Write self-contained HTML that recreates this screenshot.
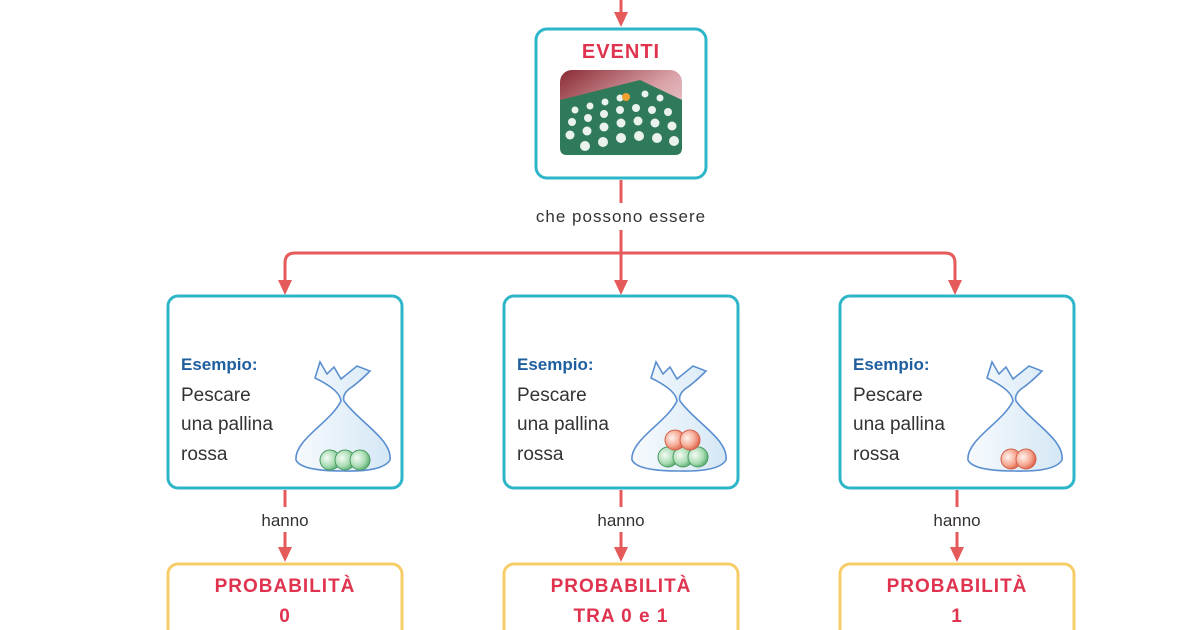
<!DOCTYPE html>
<html><head><meta charset="utf-8"><style>
body{margin:0;background:#fff;}
svg{display:block}
text{font-family:"Liberation Sans","DejaVu Sans",sans-serif;}
</style></head><body>
<svg width="1200" height="630" viewBox="0 0 1200 630" xmlns="http://www.w3.org/2000/svg">
<defs>
<radialGradient id="g" cx="0.35" cy="0.4" r="0.7"><stop offset="0" stop-color="#f4fbf5"/><stop offset="0.6" stop-color="#a9dcb3"/><stop offset="1" stop-color="#4ea868"/></radialGradient>
<radialGradient id="r" cx="0.35" cy="0.4" r="0.7"><stop offset="0" stop-color="#fff3ee"/><stop offset="0.6" stop-color="#f5a690"/><stop offset="1" stop-color="#d9583e"/></radialGradient>
<linearGradient id="bag" x1="0" y1="0" x2="1" y2="0"><stop offset="0" stop-color="#f3f8fd"/><stop offset="1" stop-color="#c3ddf1"/></linearGradient>
<linearGradient id="pic" x1="0" y1="0" x2="1" y2="1"><stop offset="0" stop-color="#8a2a35"/><stop offset="0.5" stop-color="#d9a3a8"/><stop offset="1" stop-color="#f4e6e8"/></linearGradient>
<g id="bagshape">
<path d="M148,378 L153,362 L160,374 L167,367 L174,379 L190,366 L203,371 Q190,384 182,389 Q175,395 177,401 C192,422 226,440 223,460 Q216,472 176,471 Q134,471 129,460 C127,440 164,422 174,401 Q173,390 148,378 Z" fill="url(#bag)" fill-opacity="0.7" stroke="#5b8fd0" stroke-width="1.6"/>
</g>
</defs>
<g stroke="#e55a5a" stroke-width="3" fill="none">
<line x1="621" y1="0" x2="621" y2="18"/>
<line x1="621" y1="180" x2="621" y2="203"/>
<line x1="621" y1="230" x2="621" y2="285"/>
<path d="M285,285 L285,263 Q285,253 295,253 L945,253 Q955,253 955,263 L955,285"/>
<line x1="285" y1="490" x2="285" y2="507"/><line x1="285" y1="532" x2="285" y2="550"/>
<line x1="621" y1="490" x2="621" y2="507"/><line x1="621" y1="532" x2="621" y2="550"/>
<line x1="957" y1="490" x2="957" y2="507"/><line x1="957" y1="532" x2="957" y2="550"/>
</g>
<g fill="#e55a5a">
<path d="M614,12 L628,12 L621,27 Z"/>
<path d="M278,280 L292,280 L285,295 Z"/>
<path d="M614,280 L628,280 L621,295 Z"/>
<path d="M948,280 L962,280 L955,295 Z"/>
<path d="M278,547 L292,547 L285,562 Z"/>
<path d="M614,547 L628,547 L621,562 Z"/>
<path d="M950,547 L964,547 L957,562 Z"/>
</g>
<rect x="536" y="29" width="170" height="149" rx="11" fill="#fff" stroke="#2db6c9" stroke-width="3"/>
<text x="621" y="58" text-anchor="middle" font-size="20" font-weight="bold" fill="#e0334f" letter-spacing="1">EVENTI</text>
<rect x="560" y="70" width="122" height="85" rx="12" fill="url(#pic)"/>
<path d="M560,100 L640,80 L682,100 L682,148 Q682,155 675,155 L567,155 Q560,155 560,148 Z" fill="#2f7a5a"/>
<g fill="#fff" opacity="0.9">
<circle cx="575" cy="110" r="3.5"/><circle cx="590" cy="106" r="3.5"/><circle cx="605" cy="102" r="3.5"/><circle cx="620" cy="98" r="3.5"/><circle cx="645" cy="94" r="3.5"/><circle cx="660" cy="98" r="3.5"/>
<circle cx="572" cy="122" r="4"/><circle cx="588" cy="118" r="4"/><circle cx="604" cy="114" r="4"/><circle cx="620" cy="110" r="4"/><circle cx="636" cy="108" r="4"/><circle cx="652" cy="110" r="4"/><circle cx="668" cy="112" r="4"/>
<circle cx="570" cy="135" r="4.5"/><circle cx="587" cy="131" r="4.5"/><circle cx="604" cy="127" r="4.5"/><circle cx="621" cy="123" r="4.5"/><circle cx="638" cy="121" r="4.5"/><circle cx="655" cy="123" r="4.5"/><circle cx="672" cy="126" r="4.5"/>
<circle cx="585" cy="146" r="5"/><circle cx="603" cy="142" r="5"/><circle cx="621" cy="138" r="5"/><circle cx="639" cy="136" r="5"/><circle cx="657" cy="138" r="5"/><circle cx="674" cy="141" r="5"/>
</g>
<circle cx="626" cy="97" r="4" fill="#f0a030"/>
<text x="621" y="222" text-anchor="middle" font-size="17" fill="#333" letter-spacing="1">che possono essere</text>

<g>
<rect x="168" y="296" width="234" height="192" rx="10" fill="#fff" stroke="#2db6c9" stroke-width="3"/>
<rect x="504" y="296" width="234" height="192" rx="10" fill="#fff" stroke="#2db6c9" stroke-width="3"/>
<rect x="840" y="296" width="234" height="192" rx="10" fill="#fff" stroke="#2db6c9" stroke-width="3"/>
</g>
<g transform="translate(167,0)"><use href="#bagshape"/>
<circle cx="163" cy="460" r="10" fill="url(#g)" stroke="#4a9a60"/><circle cx="178" cy="460" r="10" fill="url(#g)" stroke="#4a9a60"/><circle cx="193" cy="460" r="10" fill="url(#g)" stroke="#4a9a60"/></g>
<g transform="translate(503,0)"><use href="#bagshape"/>
<circle cx="165" cy="457" r="10" fill="url(#g)" stroke="#4a9a60"/><circle cx="180" cy="457" r="10" fill="url(#g)" stroke="#4a9a60"/><circle cx="195" cy="457" r="10" fill="url(#g)" stroke="#4a9a60"/>
<circle cx="172" cy="440" r="10" fill="url(#r)" stroke="#d0604a"/><circle cx="187" cy="440" r="10" fill="url(#r)" stroke="#d0604a"/></g>
<g transform="translate(839,0)"><use href="#bagshape"/>
<circle cx="172" cy="459" r="10" fill="url(#r)" stroke="#d0604a"/><circle cx="187" cy="459" r="10" fill="url(#r)" stroke="#d0604a"/></g>

<g font-size="19" fill="#333">
<text x="181" y="370" font-weight="bold" fill="#1f5fa0" font-size="17">Esempio:</text>
<text x="181" y="401">Pescare</text><text x="181" y="430">una pallina</text><text x="181" y="460">rossa</text>
<text x="517" y="370" font-weight="bold" fill="#1f5fa0" font-size="17">Esempio:</text>
<text x="517" y="401">Pescare</text><text x="517" y="430">una pallina</text><text x="517" y="460">rossa</text>
<text x="853" y="370" font-weight="bold" fill="#1f5fa0" font-size="17">Esempio:</text>
<text x="853" y="401">Pescare</text><text x="853" y="430">una pallina</text><text x="853" y="460">rossa</text>
</g>
<g font-size="17" fill="#333" text-anchor="middle">
<text x="285" y="526">hanno</text><text x="621" y="526">hanno</text><text x="957" y="526">hanno</text>
</g>
<g fill="#fff" stroke="#f7cd68" stroke-width="3">
<rect x="168" y="564" width="234" height="90" rx="10"/>
<rect x="504" y="564" width="234" height="90" rx="10"/>
<rect x="840" y="564" width="234" height="90" rx="10"/>
</g>
<g font-size="19" font-weight="bold" fill="#e0334f" text-anchor="middle" letter-spacing="1">
<text x="285" y="592">PROBABILITÀ</text><text x="285" y="622">0</text>
<text x="621" y="592">PROBABILITÀ</text><text x="621" y="622">TRA 0 e 1</text>
<text x="957" y="592">PROBABILITÀ</text><text x="957" y="622">1</text>
</g>
</svg>
</body></html>
